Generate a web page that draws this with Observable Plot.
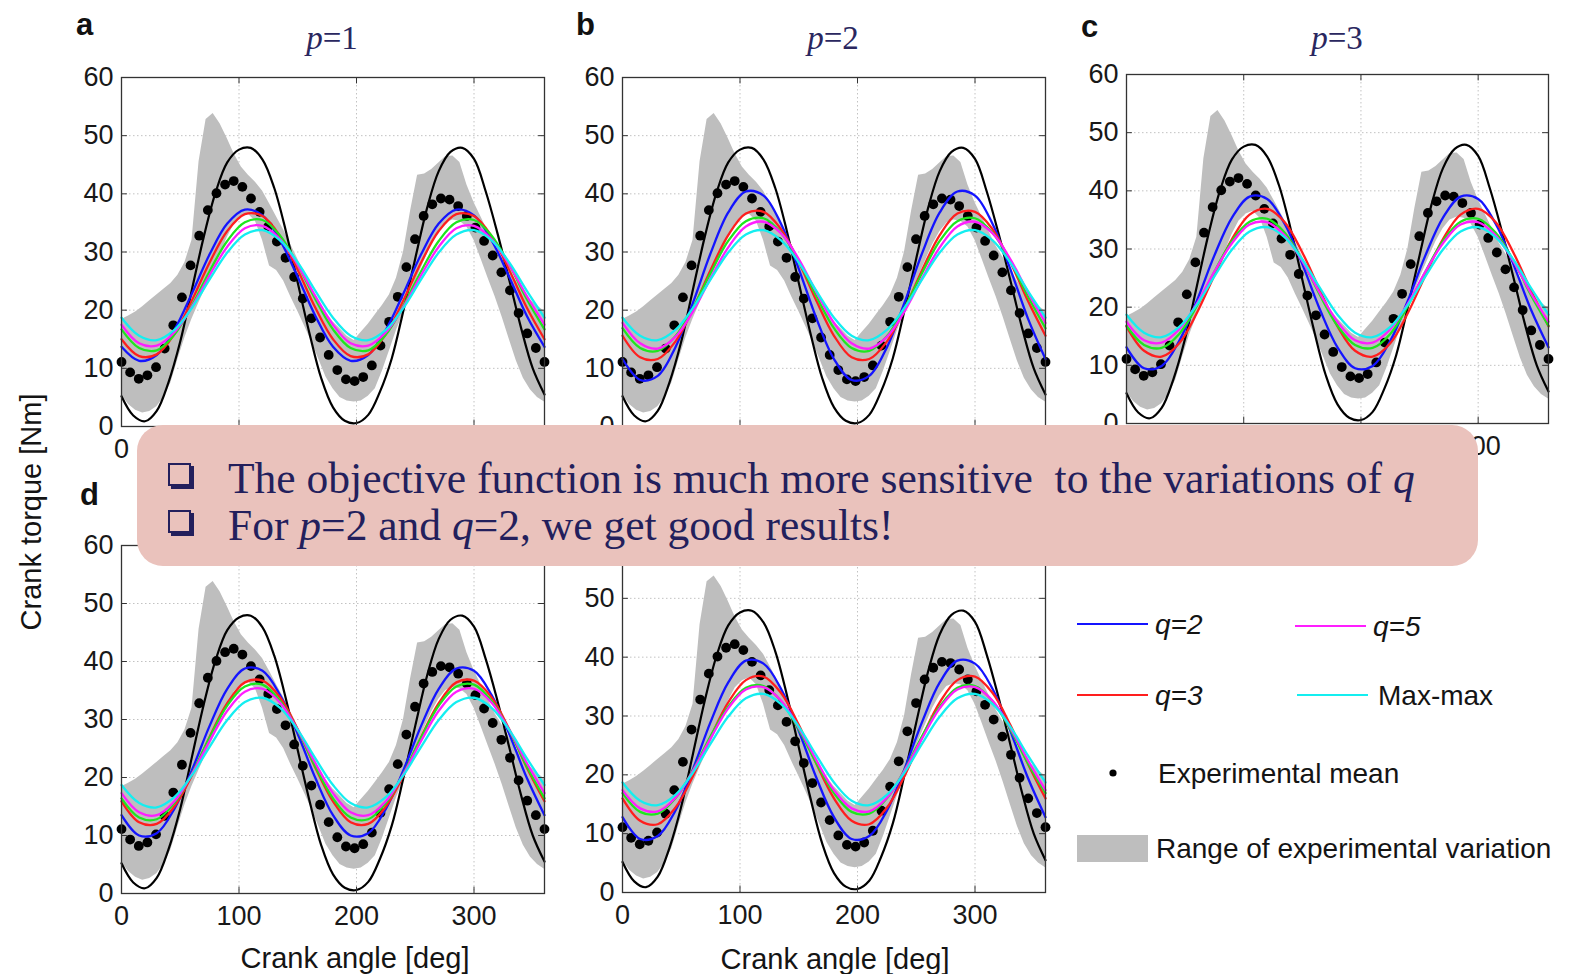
<!DOCTYPE html>
<html>
<head>
<meta charset="utf-8">
<script src="https://cdn.jsdelivr.net/npm/d3@7"></script>
<script src="https://cdn.jsdelivr.net/npm/@observablehq/plot@0.6"></script>
<style>
  html, body { margin: 0; padding: 0; background: #ffffff; }
  #root { position: relative; width: 1569px; height: 974px; overflow: hidden; background: #fff;
          font-family: "Liberation Sans", Arial, sans-serif; color: #141414; }
  .panel { position: absolute; z-index: 1; }
  .letter { position: absolute; font-weight: bold; font-size: 31px; line-height: 1; color: #111; z-index: 2; }
  .ttl { position: absolute; font-family: "Liberation Serif", "Times New Roman", serif; font-size: 33px;
         line-height: 1; color: #2a275f; transform: translateX(-50%); white-space: nowrap; z-index: 2; }
  .axt { position: absolute; font-size: 29px; line-height: 1; color: #141414; white-space: nowrap; z-index: 2; }
  #note { position: absolute; left: 137px; top: 425px; width: 1341px; height: 141px; background: #eac2bc;
          border-radius: 26px; z-index: 10; }
  .nline { position: absolute; left: 91px; font-family: "Liberation Serif", "Times New Roman", serif;
           font-size: 40px; line-height: 1; color: #231f5c; white-space: pre; }
  .box { position: absolute; left: 31px; width: 19px; height: 19px; border: 2px solid #231f5c;
         box-shadow: 3px 3px 0 #231f5c; background: transparent; }
  #legend { position: absolute; left: 1060px; top: 590px; z-index: 5; }
</style>
</head>
<body>
<div id="root"></div>
<script>
// ---------------- data ----------------
const xTicks = [0, 100, 200, 300];
const yTicks = [0, 10, 20, 30, 40, 50, 60];

// experimental mean (dots), same in every panel
const meanAngle = [0, 7.35, 14.69, 22.04, 29.39, 36.73, 44.08, 51.43, 58.78, 66.12,
  73.47, 80.82, 88.16, 95.51, 102.86, 110.2, 117.55, 124.9, 132.24, 139.59,
  146.94, 154.29, 161.63, 168.98, 176.33, 183.67, 191.02, 198.37, 205.71, 213.06,
  220.41, 227.76, 235.1, 242.45, 249.8, 257.14, 264.49, 271.84, 279.18, 286.53,
  293.88, 301.22, 308.57, 315.92, 323.27, 330.61, 337.96, 345.31, 352.65, 360];
const meanTorque = [11.1, 9.3, 8.2, 8.8, 10.2, 13.4, 17.4, 22.2, 27.7, 32.8,
  37.2, 40.1, 41.6, 42.2, 41.2, 39.2, 36.9, 34.4, 31.8, 29.0,
  25.7, 22.0, 18.6, 15.3, 12.3, 9.7, 8.1, 7.8, 8.5, 10.5,
  13.9, 18.0, 22.3, 27.4, 32.2, 36.2, 38.2, 39.2, 39.0, 37.9,
  36.2, 34.2, 31.9, 29.4, 26.5, 23.4, 19.5, 16.0, 13.5, 11.1];

// range of experimental variation (grey band)
const bandAngle = [0, 6, 12, 18, 24, 30, 36, 42, 48, 54, 60, 66, 72, 78, 84, 90, 96, 102, 108, 114,
  120, 126, 132, 138, 144, 150, 156, 162, 168, 174, 180, 186, 192, 198, 204, 210, 216, 222, 228, 234,
  240, 246, 252, 258, 264, 270, 276, 282, 288, 294, 300, 306, 312, 318, 324, 330, 336, 342, 348, 354, 360];
const bandLow = [5.4, 3.8, 2.8, 2.3, 2.6, 3.4, 5.0, 7.5, 11.5, 15.3, 18.5, 21.3, 24.0, 26.7, 29.5, 32.5, 34.8, 36.0, 36.5, 35.3,
  32.0, 27.6, 26.8, 25.0, 22.3, 19.8, 17.2, 14.5, 11.5, 8.5, 6.5, 5.0, 4.4, 4.2, 4.4, 5.2, 6.5, 9.5, 13.0, 16.5,
  19.5, 22.8, 25.8, 28.6, 31.3, 33.5, 35.0, 35.5, 35.3, 34.3, 32.0, 28.8, 25.5, 22.3, 18.8, 15.0, 11.3, 8.3, 6.3, 5.0, 4.2];
const bandHigh = [18.4, 19.0, 19.7, 20.6, 21.6, 22.6, 23.6, 24.6, 26.0, 28.2, 32.0, 45.5, 52.8, 53.8, 52.0, 49.5, 46.8, 44.6, 43.2, 42.0,
  40.5, 38.3, 36.0, 33.8, 31.3, 28.8, 26.3, 23.8, 21.6, 19.6, 18.0, 16.8, 15.5, 14.8, 16.2, 17.6, 19.2, 20.8, 22.6, 25.5,
  30.0, 37.0, 43.2, 43.4, 44.2, 45.3, 46.4, 46.5, 45.4, 41.5, 38.5, 36.0, 33.5, 31.0, 29.0, 27.0, 25.0, 23.3, 21.8, 20.7, 19.8];

// black reference curve (same in every panel)
const blackAngle = [0, 10, 20, 30, 40, 50, 60, 70, 80, 90, 100, 110, 120, 130, 140, 150, 160, 170, 180,
  190, 200, 210, 220, 230, 240, 250, 260, 270, 280, 290, 300, 310, 320, 330, 340, 350, 360];
const blackTorque = [5.2, 1.9, 0.9, 2.7, 7.6, 14.6, 23.6, 32.6, 40.2, 45.4, 47.6, 47.9, 45.9, 41.0, 33.5, 24.7, 16.0, 8.3, 3.3,
  1.0, 0.6, 2.0, 6.0, 11.7, 20.0, 28.9, 37.5, 43.9, 47.2, 47.9, 46.0, 40.4, 33.2, 25.2, 17.0, 10.0, 5.5];

// model curves, sampled every 15 degrees
const curveAngle = [0, 15, 30, 45, 60, 75, 90, 105, 120, 135, 150, 165, 180,
  195, 210, 225, 240, 255, 270, 285, 300, 315, 330, 345, 360];

const maxMax = [18.7, 15.6, 14.85, 16.6, 20.4, 25.3, 29.9, 33.0, 33.75, 32.0, 28.2, 23.3,
  18.7, 15.6, 14.85, 16.6, 20.4, 25.3, 29.9, 33.0, 33.75, 32.0, 28.2, 23.3, 18.7];

// panel a (p=1)
const q2_a = [13.7, 11.3, 12.3, 16.6, 22.9, 29.6, 34.9, 37.3, 36.3, 32.0, 25.7, 19.0,
  13.7, 11.3, 12.3, 16.6, 22.9, 29.6, 34.9, 37.3, 36.3, 32.0, 25.7, 19.0, 13.7];
const q3_a = [15.0, 12.1, 12.4, 15.9, 21.7, 28.2, 33.6, 36.5, 36.2, 32.7, 26.9, 20.4,
  15.0, 12.1, 12.4, 15.9, 21.7, 28.2, 33.6, 36.5, 36.2, 32.7, 26.9, 20.4, 15.0];
const q4_a = [16.7, 13.5, 13.1, 15.8, 20.8, 26.7, 31.9, 35.1, 35.5, 32.8, 27.8, 21.9,
  16.7, 13.5, 13.1, 15.8, 20.8, 26.7, 31.9, 35.1, 35.5, 32.8, 27.8, 21.9, 16.7];
const q5_a = [17.5, 14.3, 13.9, 16.2, 20.6, 26.0, 30.9, 34.1, 34.5, 32.2, 27.8, 22.4,
  17.5, 14.3, 13.9, 16.2, 20.6, 26.0, 30.9, 34.1, 34.5, 32.2, 27.8, 22.4, 17.5];

// panel b (p=2)
const q2_b = [11.6, 8.0, 8.7, 13.6, 21.3, 29.8, 36.8, 40.4, 39.7, 34.8, 27.1, 18.6,
  11.6, 8.0, 8.7, 13.6, 21.3, 29.8, 36.8, 40.4, 39.7, 34.8, 27.1, 18.6, 11.6];
const q3_b = [15.6, 11.9, 11.6, 14.6, 20.2, 26.9, 32.9, 36.6, 36.9, 33.9, 28.3, 21.6,
  15.6, 11.9, 11.6, 14.6, 20.2, 26.9, 32.9, 36.6, 36.9, 33.9, 28.3, 21.6, 15.6];
const q4_b = [16.9, 13.5, 13.0, 15.5, 20.4, 26.4, 31.9, 35.3, 35.8, 33.3, 28.4, 22.4,
  16.9, 13.5, 13.0, 15.5, 20.4, 26.4, 31.9, 35.3, 35.8, 33.3, 28.4, 22.4, 16.9];
const q5_b = [17.8, 14.3, 13.4, 15.4, 19.8, 25.5, 30.8, 34.4, 35.2, 33.2, 28.8, 23.1,
  17.8, 14.3, 13.4, 15.4, 19.8, 25.5, 30.8, 34.4, 35.2, 33.2, 28.8, 23.1, 17.8];

// panel c (p=3)
const q2_c = [13.1, 9.5, 9.9, 14.2, 21.1, 28.9, 35.4, 39.0, 38.6, 34.3, 27.4, 19.6,
  13.1, 9.5, 9.9, 14.2, 21.1, 28.9, 35.4, 39.0, 38.6, 34.3, 27.4, 19.6, 13.1];
const q3_c = [16.7, 12.5, 11.5, 13.8, 19.0, 25.5, 31.7, 35.9, 36.9, 34.6, 29.4, 22.9,
  16.7, 12.5, 11.5, 13.8, 19.0, 25.5, 31.7, 35.9, 36.9, 34.6, 29.4, 22.9, 16.7];
const q4_c = [16.8, 13.5, 13.0, 15.4, 20.2, 26.1, 31.4, 34.7, 35.2, 32.8, 28.0, 22.1,
  16.8, 13.5, 13.0, 15.4, 20.2, 26.1, 31.4, 34.7, 35.2, 32.8, 28.0, 22.1, 16.8];
const q5_c = [17.5, 14.3, 13.9, 16.2, 20.6, 26.1, 31.0, 34.2, 34.6, 32.3, 27.9, 22.4,
  17.5, 14.3, 13.9, 16.2, 20.6, 26.1, 31.0, 34.2, 34.6, 32.3, 27.9, 22.4, 17.5];

// panel d
const q2_d = [13.5, 10.0, 10.4, 14.6, 21.3, 28.9, 35.3, 38.8, 38.4, 34.2, 27.5, 19.9,
  13.5, 10.0, 10.4, 14.6, 21.3, 28.9, 35.3, 38.8, 38.4, 34.2, 27.5, 19.9, 13.5];
const q3_d = [15.9, 12.3, 12.0, 15.0, 20.4, 27.0, 32.8, 36.4, 36.7, 33.8, 28.3, 21.7,
  15.9, 12.3, 12.0, 15.0, 20.4, 27.0, 32.8, 36.4, 36.7, 33.8, 28.3, 21.7, 15.9];
const q4_d = [16.4, 13.1, 12.8, 15.6, 20.7, 26.9, 32.4, 35.7, 36.0, 33.2, 28.1, 21.9,
  16.4, 13.1, 12.8, 15.6, 20.7, 26.9, 32.4, 35.7, 36.0, 33.2, 28.1, 21.9, 16.4];
const q5_d = [17.3, 14.0, 13.5, 15.9, 20.6, 26.3, 31.5, 34.8, 35.3, 32.9, 28.2, 22.5,
  17.3, 14.0, 13.5, 15.9, 20.6, 26.3, 31.5, 34.8, 35.3, 32.9, 28.2, 22.5, 17.3];

// panel e
const q2_e = [12.8, 9.1, 9.6, 13.9, 21.0, 29.0, 35.7, 39.4, 38.9, 34.6, 27.5, 19.5,
  12.8, 9.1, 9.6, 13.9, 21.0, 29.0, 35.7, 39.4, 38.9, 34.6, 27.5, 19.5, 12.8];
const q3_e = [16.0, 12.2, 11.6, 14.4, 19.8, 26.4, 32.3, 36.1, 36.7, 33.9, 28.5, 21.9,
  16.0, 12.2, 11.6, 14.4, 19.8, 26.4, 32.3, 36.1, 36.7, 33.9, 28.5, 21.9, 16.0];
const q4_e = [16.9, 13.7, 13.4, 16.0, 20.8, 26.6, 31.6, 34.8, 35.1, 32.5, 27.7, 22.0,
  16.9, 13.7, 13.4, 16.0, 20.8, 26.6, 31.6, 34.8, 35.1, 32.5, 27.7, 22.0, 16.9];
const q5_e = [17.4, 14.3, 13.8, 16.1, 20.7, 26.2, 31.3, 34.5, 34.9, 32.6, 28.0, 22.5,
  17.4, 14.3, 13.8, 16.1, 20.7, 26.2, 31.3, 34.5, 34.9, 32.6, 28.0, 22.5, 17.4];

const seriesColors = { q2: "#1414ff", q3: "#ff1e1e", q4: "#1ee61e", q5: "#ff1eff", maxmax: "#14eef0" };

// ---------------- layout ----------------
const root = document.getElementById("root");
const bandRows = bandAngle.map((a, i) => ({ a, lo: bandLow[i], hi: bandHigh[i] }));
const meanRows = meanAngle.map((a, i) => ({ a, t: meanTorque[i] }));
const blackRows = blackAngle.map((a, i) => ({ a, t: blackTorque[i] }));
const rowsOf = (vals) => curveAngle.map((a, i) => ({ a, t: vals[i] }));

// which tick labels are left uncovered by the note box
function drawPanel(frameLeft, frameTop, frameW, frameH, curves, shownX, shownY) {
  const ML = 70, MR = 20, MT = 20, MB = 60;
  const lineMarks = [
    ["q2", curves[0]], ["q3", curves[1]], ["q4", curves[2]], ["q5", curves[3]], ["maxmax", maxMax]
  ].map(([k, v]) => Plot.line(rowsOf(v), { x: "a", y: "t", stroke: seriesColors[k], strokeWidth: 2.3, curve: "catmull-rom" }));
  const chart = Plot.plot({
    width: ML + frameW + MR,
    height: MT + frameH + MB,
    marginLeft: ML, marginRight: MR, marginTop: MT, marginBottom: MB,
    style: { background: "transparent", overflow: "visible", fontFamily: "'Liberation Sans', Arial, sans-serif",
             fontSize: "27px", color: "#181818" },
    x: { domain: [0, 360], ticks: shownX, tickSize: 0, tickPadding: 12, label: null },
    y: { domain: [0, 60], ticks: shownY, tickSize: 0, tickPadding: 8, label: null },
    marks: [
      Plot.ruleX(xTicks, { stroke: "#c2c2c2", strokeWidth: 1, strokeDasharray: "1.5,2.5" }),
      Plot.ruleY(yTicks, { stroke: "#c2c2c2", strokeWidth: 1, strokeDasharray: "1.5,2.5" }),
      Plot.areaY(bandRows, { x: "a", y1: "lo", y2: "hi", fill: "#bebebe" }),
      Plot.dot(meanRows, { x: "a", y: "t", r: 4.9, fill: "#000", stroke: "none" }),
      Plot.line(blackRows, { x: "a", y: "t", stroke: "#000", strokeWidth: 2.2, curve: "catmull-rom" }),
      ...lineMarks,
      Plot.ruleX(xTicks, { y1: 0, y2: 1.1, stroke: "#333" }),
      Plot.ruleX(xTicks, { y1: 60, y2: 58.9, stroke: "#333" }),
      Plot.ruleY(yTicks, { x1: 0, x2: 5, stroke: "#333" }),
      Plot.ruleY(yTicks, { x1: 360, x2: 355, stroke: "#333" }),
      Plot.frame({ stroke: "#333", strokeWidth: 1.3 })
    ]
  });
  chart.classList.add("panel");
  chart.style.left = (frameLeft - ML) + "px";
  chart.style.top = (frameTop - MT) + "px";
  root.appendChild(chart);
}

drawPanel(121, 77, 423, 349, [q2_a, q3_a, q4_a, q5_a], [0], yTicks);
drawPanel(622, 77, 423, 349, [q2_b, q3_b, q4_b, q5_b], [], yTicks);
drawPanel(1126, 74, 422, 349, [q2_c, q3_c, q4_c, q5_c], [300], yTicks);
drawPanel(121, 545, 423, 348, [q2_d, q3_d, q4_d, q5_d], xTicks, yTicks);
drawPanel(622, 539, 423, 353, [q2_e, q3_e, q4_e, q5_e], xTicks, [0, 10, 20, 30, 40, 50]);

// ---------------- texts ----------------
function addDiv(cls, html, left, top, extra) {
  const d = document.createElement("div");
  d.className = cls;
  d.innerHTML = html;
  d.style.left = left + "px";
  d.style.top = top + "px";
  if (extra) Object.assign(d.style, extra);
  root.appendChild(d);
  return d;
}
const panelLetters = ["a", "b", "c", "d"];
const letterPos = [[76, 9], [576, 9], [1081, 11], [80, 479]];
panelLetters.forEach((t, i) => addDiv("letter", t, letterPos[i][0], letterPos[i][1]));

const titles = ["<i>p</i>=1", "<i>p</i>=2", "<i>p</i>=3"];
const titleX = [332, 833, 1337];
titles.forEach((t, i) => addDiv("ttl", t, titleX[i], 22));

addDiv("axt", "Crank torque [Nm]", 31, 512, { transform: "translate(-50%,-50%) rotate(-90deg)" });
addDiv("axt", "Crank angle [deg]", 355, 944, { transform: "translateX(-50%)" });
addDiv("axt", "Crank angle [deg]", 835, 945, { transform: "translateX(-50%)" });

// note box
const note = document.createElement("div");
note.id = "note";
note.innerHTML =
  '<div class="box" style="top:38px"></div>' +
  '<div class="nline" id="n1" style="top:32px">The objective function is much more sensitive  to the variations of <i>q</i></div>' +
  '<div class="box" style="top:85px"></div>' +
  '<div class="nline" id="n2" style="top:79px">For <i>p</i>=2 and <i>q</i>=2, we get good results!</div>';
root.appendChild(note);
{
  const n1 = document.getElementById("n1"), n2 = document.getElementById("n2");
  const w = n1.getBoundingClientRect().width;
  if (w > 0) {
    const fs = 40 * 1187 / w;
    n1.style.fontSize = fs + "px";
    n2.style.fontSize = fs + "px";
  }
}

// ---------------- legend ----------------
const legendItems = [
  { kind: "line", color: seriesColors.q2, x: 17, y: 34, label: "q=2", italic: true },
  { kind: "line", color: seriesColors.q5, x: 235, y: 36, label: "q=5", italic: true },
  { kind: "line", color: seriesColors.q3, x: 17, y: 105, label: "q=3", italic: true },
  { kind: "line", color: seriesColors.maxmax, x: 237, y: 105, label: "Max-max", italic: false },
  { kind: "dot", x: 17, y: 183, label: "Experimental mean" },
  { kind: "rect", x: 17, y: 258, label: "Range of experimental variation" }
];
const svgNS = "http://www.w3.org/2000/svg";
const leg = document.createElementNS(svgNS, "svg");
leg.setAttribute("id", "legend");
leg.setAttribute("width", "509");
leg.setAttribute("height", "290");
leg.style.fontFamily = "'Liberation Sans', Arial, sans-serif";
leg.style.fontSize = "28px";
function el(name, attrs, text) {
  const e = document.createElementNS(svgNS, name);
  for (const k in attrs) e.setAttribute(k, attrs[k]);
  if (text != null) e.textContent = text;
  leg.appendChild(e);
  return e;
}
legendItems.forEach(it => {
  let tx;
  if (it.kind === "line") {
    el("line", { x1: it.x, x2: it.x + 71, y1: it.y, y2: it.y, stroke: it.color, "stroke-width": 2.2 });
    tx = it.x + 78 + (it.italic ? 0 : 3);
  } else if (it.kind === "dot") {
    el("circle", { cx: it.x + 36, cy: it.y, r: 3.6, fill: "#000" });
    tx = it.x + 81;
  } else {
    el("rect", { x: it.x, y: it.y - 13, width: 71, height: 27, fill: "#bebebe" });
    tx = it.x + 79;
  }
  el("text", { x: tx, y: it.y, "dominant-baseline": "central", fill: "#141414",
               "font-style": it.italic ? "italic" : "normal" }, it.label);
});
root.appendChild(leg);
</script>
</body>
</html>
